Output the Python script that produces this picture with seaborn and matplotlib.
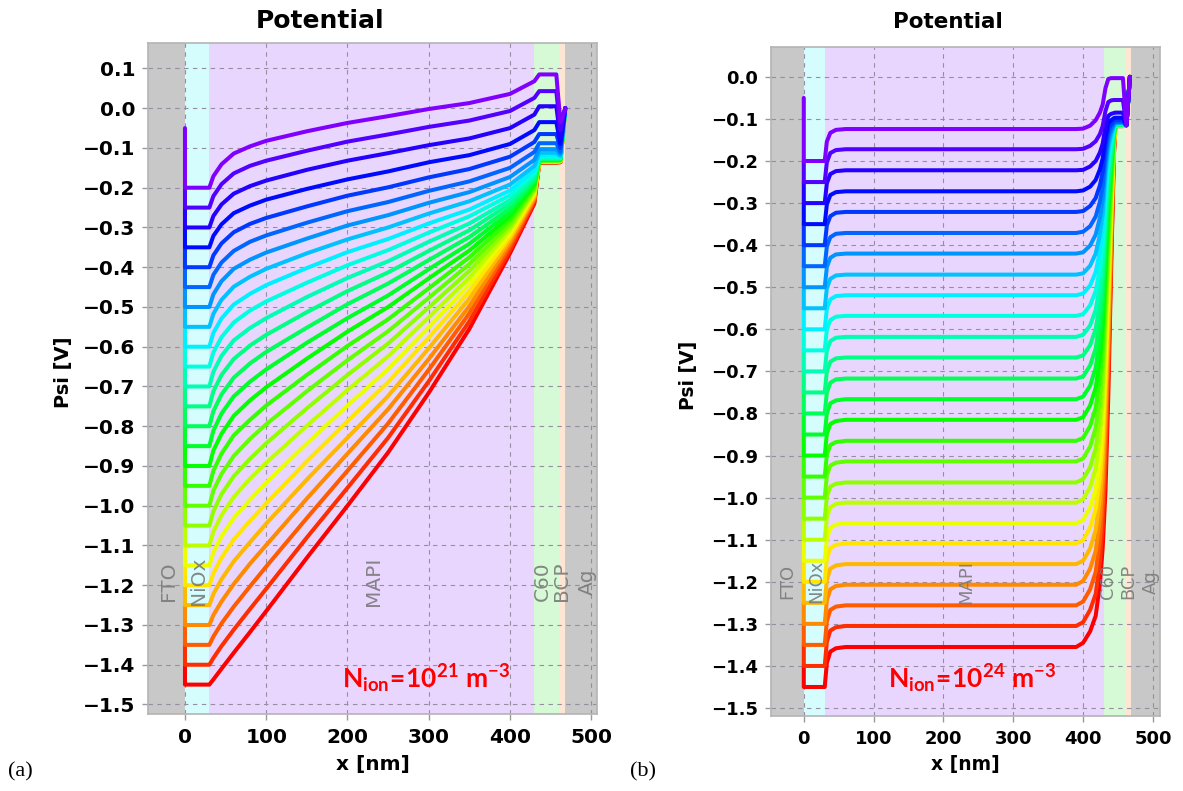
import matplotlib
matplotlib.use("Agg")
import matplotlib.pyplot as plt
import matplotlib.colors as mcolors
import pandas as pd
import seaborn as sns

# ---------------- data ----------------
layer_names = ["FTO", "NiOx", "MAPI", "C60", "BCP", "Ag"]
layer_edges = [0, 30, 430, 460, 468]
layer_colors = ["#c8c8c8", "#d6fdfd", "#e9d6fe", "#d6fad6", "#fde6d4", "#c8c8c8"]

x_ticks = [0, 100, 200, 300, 400, 500]
x_tick_labels = ["0", "100", "200", "300", "400", "500"]
a_yticks = [0.1, 0.0, -0.1, -0.2, -0.3, -0.4, -0.5, -0.6, -0.7, -0.8, -0.9, -1.0, -1.1, -1.2, -1.3, -1.4, -1.5]
a_ytick_labels = ["0.1", "0.0", "\u22120.1", "\u22120.2", "\u22120.3", "\u22120.4", "\u22120.5", "\u22120.6",
                  "\u22120.7", "\u22120.8", "\u22120.9", "\u22121.0", "\u22121.1", "\u22121.2", "\u22121.3",
                  "\u22121.4", "\u22121.5"]
b_yticks = a_yticks[1:]
b_ytick_labels = a_ytick_labels[1:]

# NiOx flat level of every curve (both panels) and value at x=0
level = [-0.20, -0.25, -0.30, -0.35, -0.40, -0.45, -0.50, -0.55, -0.60, -0.65, -0.70, -0.75, -0.80,
         -0.85, -0.90, -0.95, -1.00, -1.05, -1.10, -1.15, -1.20, -1.25, -1.30, -1.35, -1.40, -1.45]
start = [-0.05, -0.20, -0.25, -0.30, -0.35, -0.40, -0.45, -0.50, -0.55, -0.60, -0.65, -0.70, -0.75,
         -0.80, -0.85, -0.90, -0.95, -1.00, -1.05, -1.10, -1.15, -1.20, -1.25, -1.30, -1.35, -1.40]
contact_psi = 0.0

# ---- panel (a): N_ion = 1e21 ----
a_x35 = [-0.171, -0.221, -0.271, -0.321, -0.370, -0.419, -0.468, -0.517, -0.565, -0.614, -0.663, -0.712, -0.762,
         -0.811, -0.861, -0.912, -0.962, -1.014, -1.065, -1.117, -1.170, -1.222, -1.275, -1.329, -1.383, -1.437]
a_x45 = [-0.141, -0.191, -0.242, -0.292, -0.340, -0.388, -0.435, -0.482, -0.529, -0.576, -0.623, -0.671, -0.720,
         -0.768, -0.819, -0.869, -0.920, -0.971, -1.024, -1.077, -1.131, -1.185, -1.241, -1.296, -1.353, -1.410]
a_x60 = [-0.114, -0.164, -0.215, -0.264, -0.312, -0.359, -0.404, -0.449, -0.494, -0.539, -0.584, -0.631, -0.678,
         -0.725, -0.774, -0.823, -0.875, -0.926, -0.978, -1.031, -1.085, -1.140, -1.197, -1.254, -1.312, -1.370]
a_x80 = [-0.096, -0.145, -0.196, -0.245, -0.291, -0.336, -0.381, -0.424, -0.467, -0.509, -0.553, -0.597, -0.642,
         -0.688, -0.735, -0.784, -0.832, -0.882, -0.932, -0.985, -1.038, -1.092, -1.146, -1.203, -1.260, -1.318]
a_x100 = [-0.082, -0.132, -0.182, -0.230, -0.276, -0.320, -0.363, -0.404, -0.445, -0.486, -0.528, -0.570, -0.613,
          -0.657, -0.702, -0.748, -0.795, -0.843, -0.892, -0.942, -0.994, -1.045, -1.099, -1.153, -1.209, -1.265]
a_x150 = [-0.058, -0.107, -0.155, -0.203, -0.247, -0.288, -0.328, -0.365, -0.402, -0.439, -0.475, -0.513, -0.552,
          -0.590, -0.630, -0.671, -0.712, -0.755, -0.799, -0.843, -0.888, -0.934, -0.982, -1.031, -1.080, -1.131]
a_x200 = [-0.037, -0.084, -0.132, -0.179, -0.220, -0.259, -0.295, -0.330, -0.362, -0.395, -0.427, -0.460, -0.493,
          -0.528, -0.562, -0.598, -0.634, -0.671, -0.709, -0.748, -0.787, -0.829, -0.869, -0.912, -0.955, -1.000]
a_x250 = [-0.020, -0.066, -0.113, -0.159, -0.199, -0.236, -0.269, -0.300, -0.329, -0.357, -0.385, -0.413, -0.441,
          -0.471, -0.500, -0.531, -0.561, -0.592, -0.624, -0.656, -0.689, -0.724, -0.757, -0.793, -0.829, -0.866]
a_x300 = [-0.002, -0.047, -0.093, -0.136, -0.174, -0.208, -0.238, -0.265, -0.290, -0.313, -0.336, -0.359, -0.382,
          -0.405, -0.428, -0.453, -0.477, -0.501, -0.526, -0.551, -0.577, -0.604, -0.631, -0.658, -0.687, -0.716]
a_x350 = [0.013, -0.031, -0.076, -0.118, -0.153, -0.184, -0.211, -0.234, -0.255, -0.272, -0.290, -0.307, -0.324,
          -0.341, -0.358, -0.375, -0.392, -0.409, -0.426, -0.443, -0.461, -0.479, -0.498, -0.516, -0.536, -0.555]
a_x400 = [0.036, -0.007, -0.050, -0.090, -0.122, -0.150, -0.173, -0.192, -0.207, -0.219, -0.231, -0.241, -0.252,
          -0.262, -0.272, -0.281, -0.290, -0.298, -0.306, -0.314, -0.322, -0.330, -0.338, -0.346, -0.356, -0.365]
a_x430 = [0.068, 0.026, -0.016, -0.055, -0.085, -0.110, -0.130, -0.145, -0.155, -0.163, -0.170, -0.176, -0.182,
          -0.187, -0.192, -0.197, -0.201, -0.205, -0.209, -0.213, -0.217, -0.222, -0.226, -0.230, -0.235, -0.240]
a_c60 = [0.085, 0.043, 0.005, -0.035, -0.065, -0.088, -0.103, -0.112, -0.118, -0.122, -0.125, -0.127, -0.128,
         -0.129, -0.130, -0.131, -0.132, -0.133, -0.133, -0.134, -0.134, -0.135, -0.135, -0.136, -0.136, -0.137]
a_bcp = [-0.035, -0.055, -0.075, -0.090, -0.100, -0.110, -0.115, -0.120, -0.122, -0.124, -0.125, -0.126, -0.127,
         -0.128, -0.129, -0.130, -0.131, -0.132, -0.132, -0.133, -0.133, -0.134, -0.134, -0.135, -0.135, -0.136]
a_positions = [0, 0, 30, 35, 45, 60, 80, 100, 150, 200, 250, 300, 350, 400, 430, 436, 457, 462, 468]

# ---- panel (b): N_ion = 1e24 ----
b_x33 = [-0.154, -0.203, -0.253, -0.303, -0.353, -0.403, -0.452, -0.502, -0.551, -0.601, -0.651, -0.700, -0.750,
         -0.800, -0.849, -0.899, -0.948, -0.998, -1.047, -1.097, -1.145, -1.195, -1.244, -1.294, -1.343, -1.393]
b_x38 = [-0.133, -0.181, -0.231, -0.281, -0.331, -0.381, -0.430, -0.480, -0.529, -0.578, -0.628, -0.677, -0.727,
         -0.776, -0.825, -0.875, -0.924, -0.974, -1.023, -1.072, -1.120, -1.169, -1.218, -1.267, -1.316, -1.366]
b_x46 = [-0.126, -0.174, -0.224, -0.274, -0.323, -0.373, -0.422, -0.472, -0.521, -0.570, -0.620, -0.669, -0.719,
         -0.769, -0.818, -0.868, -0.917, -0.967, -1.015, -1.064, -1.112, -1.161, -1.210, -1.259, -1.308, -1.358]
b_plateau = [-0.124, -0.172, -0.222, -0.272, -0.321, -0.371, -0.420, -0.470, -0.519, -0.568, -0.618, -0.667, -0.717,
             -0.766, -0.815, -0.865, -0.914, -0.964, -1.012, -1.061, -1.109, -1.158, -1.207, -1.256, -1.305, -1.355]
b_x400 = [-0.123, -0.171, -0.221, -0.270, -0.319, -0.368, -0.417, -0.467, -0.515, -0.564, -0.613, -0.662, -0.712,
          -0.760, -0.809, -0.858, -0.907, -0.956, -1.004, -1.053, -1.101, -1.150, -1.198, -1.247, -1.296, -1.345]
b_x410 = [-0.116, -0.164, -0.213, -0.261, -0.307, -0.355, -0.401, -0.449, -0.496, -0.543, -0.591, -0.638, -0.686,
          -0.734, -0.781, -0.830, -0.879, -0.928, -0.975, -1.023, -1.071, -1.121, -1.169, -1.218, -1.267, -1.318]
b_x418 = [-0.103, -0.153, -0.200, -0.245, -0.288, -0.332, -0.375, -0.420, -0.464, -0.509, -0.554, -0.599, -0.646,
          -0.692, -0.739, -0.787, -0.834, -0.883, -0.930, -0.980, -1.028, -1.077, -1.127, -1.177, -1.229, -1.281]
b_x424 = [-0.085, -0.136, -0.180, -0.220, -0.258, -0.297, -0.335, -0.375, -0.415, -0.455, -0.497, -0.539, -0.582,
          -0.625, -0.669, -0.715, -0.761, -0.808, -0.854, -0.902, -0.950, -1.000, -1.050, -1.101, -1.153, -1.206]
b_x428 = [-0.066, -0.117, -0.159, -0.194, -0.226, -0.260, -0.293, -0.326, -0.361, -0.397, -0.434, -0.472, -0.511,
          -0.552, -0.592, -0.635, -0.679, -0.724, -0.769, -0.815, -0.863, -0.912, -0.962, -1.013, -1.065, -1.120]
b_x432 = [-0.027, -0.081, -0.118, -0.143, -0.164, -0.186, -0.209, -0.232, -0.258, -0.285, -0.314, -0.346, -0.379,
          -0.414, -0.451, -0.490, -0.531, -0.574, -0.617, -0.664, -0.712, -0.762, -0.814, -0.868, -0.925, -0.984]
b_x436 = [-0.005, -0.060, -0.093, -0.111, -0.125, -0.139, -0.153, -0.168, -0.184, -0.203, -0.223, -0.246, -0.270,
          -0.297, -0.324, -0.354, -0.387, -0.421, -0.456, -0.493, -0.533, -0.575, -0.618, -0.663, -0.711, -0.761]
b_x440 = [-0.003, -0.056, -0.088, -0.103, -0.113, -0.122, -0.130, -0.138, -0.148, -0.158, -0.169, -0.181, -0.194,
          -0.209, -0.224, -0.240, -0.258, -0.276, -0.296, -0.317, -0.338, -0.361, -0.384, -0.410, -0.437, -0.464]
b_x444 = [-0.003, -0.055, -0.086, -0.098, -0.105, -0.110, -0.113, -0.116, -0.119, -0.122, -0.124, -0.127, -0.131,
          -0.134, -0.138, -0.141, -0.145, -0.150, -0.154, -0.159, -0.164, -0.168, -0.174, -0.179, -0.186, -0.191]
b_c60 = [-0.003, -0.055, -0.085, -0.097, -0.103, -0.107, -0.109, -0.110, -0.111, -0.112, -0.112, -0.113, -0.113,
         -0.114, -0.114, -0.114, -0.115, -0.115, -0.115, -0.115, -0.116, -0.116, -0.116, -0.116, -0.117, -0.117]
b_bcp_psi = -0.115
b_positions = [0, 0, 30, 33, 38, 46, 60, 390, 400, 410, 418, 424, 428, 432, 436, 440, 444, 446, 457, 462, 467]

# ---------------- build long tables ----------------
n_curves = len(level)
curve_ids = list(range(n_curves))

a_columns = [start, level, level, a_x35, a_x45, a_x60, a_x80, a_x100, a_x150, a_x200, a_x250, a_x300, a_x350,
             a_x400, a_x430, a_c60, a_c60, a_bcp, contact_psi]
b_columns = [start, level, level, b_x33, b_x38, b_x46, b_plateau, b_plateau, b_x400, b_x410, b_x418, b_x424,
             b_x428, b_x432, b_x436, b_x440, b_x444, b_c60, b_c60, b_bcp_psi, contact_psi]


def build_frame(xs, cols):
    rows = []
    for k in curve_ids:
        for x, col in zip(xs, cols):
            y = col[k] if isinstance(col, list) else col
            rows.append((k, x, y))
    return pd.DataFrame(rows, columns=["curve", "x", "psi"])


df_a = build_frame(a_positions, a_columns)
df_b = build_frame(b_positions, b_columns)

# rainbow from violet (hue 270deg) to red (hue 0deg)
palette = {k: tuple(mcolors.hsv_to_rgb((0.75 * (1 - k / (n_curves - 1)), 1.0, 1.0))) for k in curve_ids}

# ---------------- styling ----------------
plt.rcParams["font.family"] = ["DejaVu Sans"]
plt.rcParams["mathtext.fontset"] = "custom"
plt.rcParams["mathtext.bf"] = "Lato:bold"
plt.rcParams["mathtext.rm"] = "Lato"
plt.rcParams["mathtext.it"] = "Lato:italic"

fig = plt.figure(figsize=(11.83, 7.91), dpi=100)
fig.patch.set_facecolor("white")

ax_a = fig.add_axes([0.1251, 0.0973, 0.3795, 0.8483])
ax_b = fig.add_axes([0.6517, 0.0948, 0.3288, 0.8458])

panels = [
    dict(ax=ax_a, df=df_a, xlim=(-45.5, 507), ylim=(-1.524, 0.164), yticks=a_yticks, ylabels=a_ytick_labels,
         tick_fs=14.5, lab_fs=14.5, lab_y=-1.19, label_x=[-20, 17, 232, 440, 463, 495],
         ann=r"$\mathbf{N_{ion}\!=\!10^{21}\ m^{-3}}$", ann_xy=(193, -1.46)),
    dict(ax=ax_b, df=df_b, xlim=(-47, 510), ylim=(-1.519, 0.071), yticks=b_yticks, ylabels=b_ytick_labels,
         tick_fs=13, lab_fs=13, lab_y=-1.20, label_x=[-23, 18, 232, 435, 465, 497],
         ann=r"$\mathbf{N_{ion}\!=\!10^{24}\ m^{-3}}$", ann_xy=(120, -1.452)),
]

for p in panels:
    ax = p["ax"]
    ax.set_facecolor("white")
    x0, x1 = p["xlim"]
    bounds = [x0] + layer_edges + [x1]
    for i, c in enumerate(layer_colors):
        ax.axvspan(bounds[i], bounds[i + 1], color=c, lw=0, zorder=0)

    sns.lineplot(data=p["df"], x="x", y="psi", hue="curve", palette=palette, hue_order=curve_ids[::-1],
                 units="curve", estimator=None, sort=False, linewidth=2.9, legend=False, ax=ax,
                 solid_joinstyle="round", solid_capstyle="round")

    ax.set_xlim(x0, x1)
    ax.set_ylim(*p["ylim"])
    ax.set_xticks(x_ticks)
    ax.set_xticklabels(x_tick_labels, fontweight="bold", fontsize=p["tick_fs"])
    ax.set_yticks(p["yticks"])
    ax.set_yticklabels(p["ylabels"], fontweight="bold", fontsize=p["tick_fs"])
    ax.tick_params(axis="both", length=4, width=1, color="#9a9a9a")
    ax.tick_params(axis="y", pad=5)
    ax.tick_params(axis="x", pad=6)
    ax.set_xlabel("")
    ax.set_ylabel("")
    ax.set_axisbelow("line")
    ax.grid(True, color="#948ea0", linestyle=(0, (4, 4)), linewidth=0.8)
    for s in ax.spines.values():
        s.set_color("#b4b4b4")
        s.set_linewidth(1.2)

    for name, lx in zip(layer_names, p["label_x"]):
        ax.text(lx, p["lab_y"], name, rotation=90, ha="center", va="center", fontsize=p["lab_fs"],
                color="#7a7a7a", alpha=0.9, zorder=5)

    ax.text(p["ann_xy"][0], p["ann_xy"][1], p["ann"], color="#ff0000", fontsize=19, ha="left",
            va="baseline", zorder=6)

# titles, axis labels and panel tags
fig.text(0.2705, 0.974, "Potential", ha="center", va="center", fontsize=18, fontweight="bold")
fig.text(0.801, 0.972, "Potential", ha="center", va="center", fontsize=15.5, fontweight="bold")
fig.text(0.0533, 0.530, "Psi [V]", rotation=90, ha="center", va="center", fontsize=14, fontweight="bold")
fig.text(0.5816, 0.525, "Psi [V]", rotation=90, ha="center", va="center", fontsize=13.5, fontweight="bold")
fig.text(0.3153, 0.0329, "x [nm]", ha="center", va="center", fontsize=14.5, fontweight="bold")
fig.text(0.8157, 0.0329, "x [nm]", ha="center", va="center", fontsize=13.5, fontweight="bold")
fig.text(0.0169, 0.024, "(a)", ha="center", va="center", fontsize=16, family=["Liberation Serif"])
fig.text(0.5435, 0.024, "(b)", ha="center", va="center", fontsize=16, family=["Liberation Serif"])

fig.savefig("out.png", dpi=100, facecolor="white")
